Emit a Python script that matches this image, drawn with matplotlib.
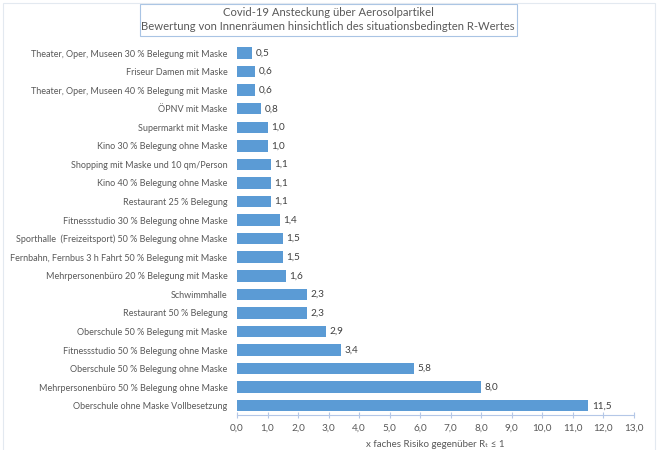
"""
Covid-19 Ansteckung über Aerosolpartikel - Balkendiagramm.
"""

import matplotlib
matplotlib.use("Agg")
import matplotlib.pyplot as plt
from matplotlib.patches import Rectangle

categories = [
    "Theater, Oper, Museen 30 % Belegung mit Maske",
    "Friseur Damen mit Maske",
    "Theater, Oper, Museen 40 % Belegung mit Maske",
    "ÖPNV mit Maske",
    "Supermarkt mit Maske",
    "Kino 30 % Belegung ohne Maske",
    "Shopping mit Maske und 10 qm/Person",
    "Kino 40 % Belegung ohne Maske",
    "Restaurant 25 % Belegung",
    "Fitnessstudio 30 % Belegung ohne Maske",
    "Sporthalle  (Freizeitsport) 50 % Belegung ohne Maske",
    "Fernbahn, Fernbus 3 h Fahrt 50 % Belegung mit Maske",
    "Mehrpersonenbüro 20 % Belegung mit Maske",
    "Schwimmhalle",
    "Restaurant 50 % Belegung",
    "Oberschule 50 % Belegung mit Maske",
    "Fitnessstudio 50 % Belegung ohne Maske",
    "Oberschule 50 % Belegung ohne Maske",
    "Mehrpersonenbüro 50 % Belegung ohne Maske",
    "Oberschule ohne Maske Vollbesetzung",
]
values = [0.5, 0.6, 0.6, 0.8, 1.0, 1.0, 1.1, 1.1, 1.1, 1.4,
          1.5, 1.5, 1.6, 2.3, 2.3, 2.9, 3.4, 5.8, 8.0, 11.5]
x_ticks = list(range(0, 14))

title_lines = ["Covid-19 Ansteckung über Aerosolpartikel",
               "Bewertung von Innenräumen hinsichtlich des situationsbedingten R-Wertes"]
x_label = "x faches Risiko gegenüber Rₜ ≤ 1"

text_color = "#595959"
bar_color = "#5B9BD5"
axis_color = "#B4C7E7"

plt.rcParams["font.family"] = ["Lato", "DejaVu Sans"]


def de(v):
    return f"{v:.1f}".replace(".", ",")


def main():

    fig = plt.figure(figsize=(6.72, 4.5), dpi=100)
    ax = fig.add_axes([237 / 672, 1 - 415 / 450, 397 / 672, (415 - 43.75) / 450])

    y = list(range(len(categories)))
    ax.barh(y, values, height=0.62, color=bar_color)

    for yi, v in zip(y, values):
        ax.text(v + 0.12, yi, de(v), va="center", ha="left",
                fontsize=7.2, color="#404040")

    ax.set_yticks(y)
    ax.set_yticklabels(categories, fontsize=6.5, color=text_color)
    ax.set_ylim(len(categories) - 0.5, -0.5)

    ax.set_xlim(0, 13)
    ax.set_xticks(x_ticks)
    ax.set_xticklabels([de(t) for t in x_ticks], fontsize=7.2, color=text_color)
    ax.set_xlabel(x_label, fontsize=7, color=text_color, labelpad=5)

    for s in ["top", "right", "left"]:
        ax.spines[s].set_visible(False)
    ax.spines["bottom"].set_color(axis_color)
    ax.tick_params(axis="y", length=0, pad=7)
    ax.tick_params(axis="x", direction="inout", length=5, color=axis_color, pad=4)

    # title in a framed box
    fig.text(328 / 672, 1 - 12 / 450, title_lines[0], ha="center", va="center",
             fontsize=8.1, color=text_color)
    fig.text(328 / 672, 1 - 27 / 450, title_lines[1], ha="center", va="center",
             fontsize=8.1, color=text_color)
    fig.patches.append(Rectangle((140 / 672, 1 - 36 / 450), 377 / 672, 32 / 450,
                                 transform=fig.transFigure, fill=False,
                                 edgecolor="#A9C4E4", linewidth=0.8))

    # faint outer chart frame
    fig.patches.append(Rectangle((3 / 672, -0.1), 652 / 672, 1.1 - 3 / 450,
                                 transform=fig.transFigure, fill=False,
                                 edgecolor="#E3E9F0", linewidth=0.8))

    fig.savefig("out.png", dpi=100)


if __name__ == "__main__":
    main()
